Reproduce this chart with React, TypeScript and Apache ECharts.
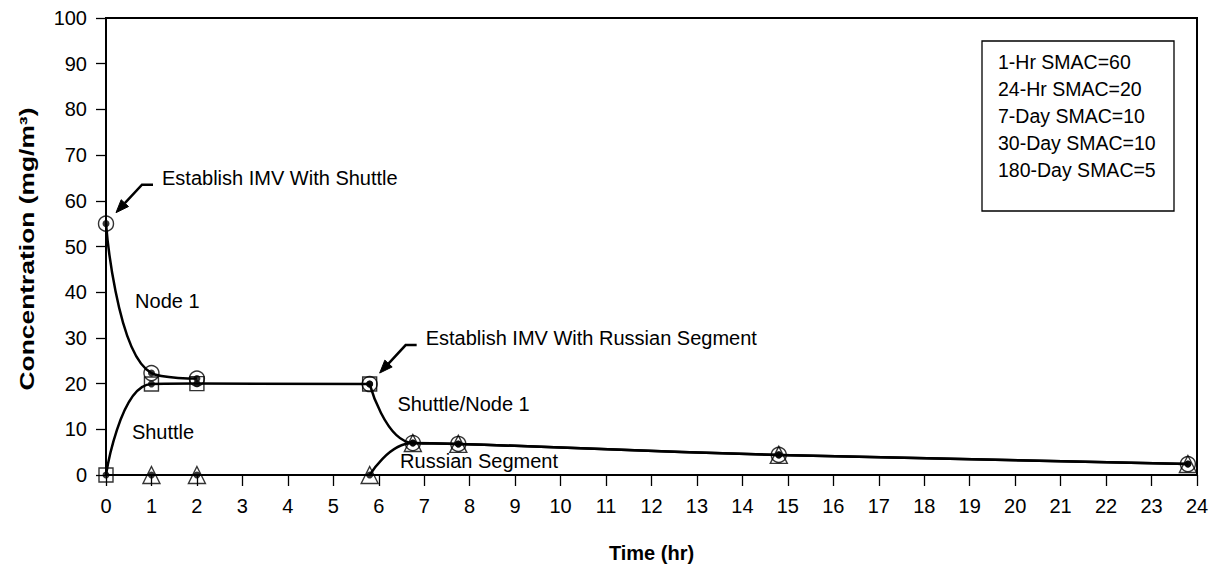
import React, { useEffect, useRef } from "react";
import * as echarts from "echarts";

const FONT = "'Liberation Sans', Arial, Helvetica, sans-serif";

// Node 1 samples (hr, mg/m³); from 5.8 hr on it is the joined Shuttle/Node 1 atmosphere
const node1Hours = [0, 1, 2, 5.8, 6.75, 7.75, 14.8, 23.8];
const node1Conc = [55, 22.3, 21.1, 19.9, 7.0, 6.8, 4.4, 2.4];
// Node 1 curve runs into the Shuttle curve after this sample ...
const node1MergeSample = 2;
// ... and the joined curve starts at the Russian hatch-opening sample
const node1JoinSample = 3;

// Shuttle samples
const shuttleHours = [0, 1, 2, 5.8];
const shuttleConc = [0, 19.9, 20.0, 19.9];

// Russian Segment samples
const russianHours = [1, 2, 5.8, 6.75, 7.75, 14.8, 23.8];
const russianConc = [0, 0, 0, 7.0, 6.8, 4.4, 2.4];
// the Russian curve is drawn from the hatch-opening sample onwards
const russianCurveStart = 2;

const hourTicks = { min: 0, max: 24, step: 1 };
const concTicks = { min: 0, max: 100, step: 10 };

const smacLimits = [
  "1-Hr SMAC=60",
  "24-Hr SMAC=20",
  "7-Day SMAC=10",
  "30-Day SMAC=10",
  "180-Day SMAC=5",
];

// curve names, placed in data units (left edge, vertical centre)
const curveLabels = [
  { text: "Node 1", hr: 0.64, conc: 38.1 },
  { text: "Shuttle", hr: 0.57, conc: 9.4 },
  { text: "Shuttle/Node 1", hr: 6.41, conc: 15.5 },
  { text: "Russian Segment", hr: 6.47, conc: 3.1 },
];

// events, pointing at Node 1 samples
const events = [
  { text: "Establish IMV With Shuttle", sample: 0 },
  { text: "Establish IMV With Russian Segment", sample: 3 },
];

const zip = (xs: number[], ys: number[]) => xs.map((x, i) => [x, ys[i]]);

export default function App() {
  const ref = useRef<HTMLDivElement | null>(null);

  useEffect(() => {
    if (!ref.current) return;
    const chart = echarts.init(ref.current, null, { renderer: "svg" });

    const node1 = zip(node1Hours, node1Conc);
    const shuttle = zip(shuttleHours, shuttleConc);
    const russian = zip(russianHours, russianConc);

    const curve = (data: number[][]) => ({
      type: "line",
      data,
      smooth: true,
      showSymbol: false,
      silent: true,
      lineStyle: { color: "#000", width: 2.5 },
    });
    const hollow = {
      color: "rgba(0,0,0,0)",
      borderColor: "#000",
      borderWidth: 1.4,
    };

    chart.setOption({
      animation: false,
      backgroundColor: "#fff",
      grid: {
        left: 106,
        right: 28,
        top: 18,
        bottom: 96,
        show: true,
        borderColor: "#000",
        borderWidth: 2,
      },
      xAxis: {
        type: "value",
        min: hourTicks.min,
        max: hourTicks.max,
        interval: hourTicks.step,
        name: "Time (hr)",
        nameLocation: "middle",
        nameGap: 68,
        nameTextStyle: {
          fontFamily: FONT,
          fontWeight: "bold",
          fontSize: 20,
          color: "#000",
        },
        axisLine: { onZero: false, lineStyle: { color: "#000", width: 2 } },
        axisTick: { length: 11, lineStyle: { color: "#000", width: 1.3 } },
        axisLabel: { margin: 21, fontSize: 20, color: "#000", fontFamily: FONT },
        splitLine: { show: false },
      },
      yAxis: {
        type: "value",
        min: concTicks.min,
        max: concTicks.max,
        interval: concTicks.step,
        axisLine: { onZero: false, lineStyle: { color: "#000", width: 2 } },
        axisTick: { length: 10, lineStyle: { color: "#000", width: 1.3 } },
        axisLabel: { margin: 19, fontSize: 20, color: "#000", fontFamily: FONT },
        splitLine: { show: false },
      },
      series: [
        curve(node1.slice(0, node1MergeSample + 1)),
        curve(node1.slice(node1JoinSample)),
        curve(shuttle),
        curve(russian.slice(russianCurveStart)),
        {
          type: "scatter",
          data: russian,
          symbol: "triangle",
          symbolSize: 17,
          silent: true,
          itemStyle: hollow,
          z: 3,
        },
        {
          type: "scatter",
          data: shuttle,
          symbol: "rect",
          symbolSize: 14,
          silent: true,
          itemStyle: hollow,
          z: 3,
        },
        {
          type: "scatter",
          data: node1,
          symbol: "circle",
          symbolSize: 15,
          silent: true,
          itemStyle: hollow,
          z: 3,
        },
        {
          type: "scatter",
          data: [...node1, ...shuttle, ...russian],
          symbol: "circle",
          symbolSize: 7,
          silent: true,
          itemStyle: { color: "#000" },
          z: 4,
        },
      ],
    });

    const toPx = (hr: number, conc: number) =>
      chart.convertToPixel({ gridIndex: 0 }, [hr, conc]) as number[];

    const graphics: any[] = [];

    // vertical axis title
    graphics.push({
      type: "text",
      x: 27,
      y: 249,
      rotation: Math.PI / 2,
      scaleX: 1.32,
      silent: true,
      style: {
        text: "Concentration (mg/m³)",
        font: `bold 20px ${FONT}`,
        fill: "#000",
        align: "center",
        verticalAlign: "middle",
      },
    });

    // SMAC box
    graphics.push({
      type: "rect",
      shape: { x: 982, y: 41, width: 192, height: 170 },
      silent: true,
      style: { fill: "#fff", stroke: "#000", lineWidth: 1.3 },
      z: 10,
    });
    smacLimits.forEach((line, i) => {
      graphics.push({
        type: "text",
        x: 998,
        y: 62 + i * 27,
        silent: true,
        z: 11,
        style: {
          text: line,
          font: `19.5px ${FONT}`,
          fill: "#000",
          align: "left",
          verticalAlign: "middle",
        },
      });
    });

    // curve names
    curveLabels.forEach((l) => {
      const [px, py] = toPx(l.hr, l.conc);
      graphics.push({
        type: "text",
        x: px,
        y: py,
        silent: true,
        z: 10,
        style: {
          text: l.text,
          font: `20px ${FONT}`,
          fill: "#000",
          align: "left",
          verticalAlign: "middle",
        },
      });
    });

    // event call-outs with arrows
    events.forEach((e) => {
      const [px, py] = toPx(node1Hours[e.sample], node1Conc[e.sample]);
      const tip = [px + 10, py - 11];
      const elbow = [px + 36, py - 39];
      const end = [px + 47, py - 39];
      const dx = tip[0] - elbow[0];
      const dy = tip[1] - elbow[1];
      const len = Math.hypot(dx, dy);
      const ux = dx / len;
      const uy = dy / len;
      const headLen = 13;
      const headHalf = 5;
      const base = [tip[0] - ux * headLen, tip[1] - uy * headLen];
      graphics.push({
        type: "polyline",
        silent: true,
        z: 10,
        shape: { points: [end, elbow, base] },
        style: { stroke: "#000", lineWidth: 2.5, fill: "none" },
      });
      graphics.push({
        type: "polygon",
        silent: true,
        z: 10,
        shape: {
          points: [
            tip,
            [base[0] - uy * headHalf, base[1] + ux * headHalf],
            [base[0] + uy * headHalf, base[1] - ux * headHalf],
          ],
        },
        style: { fill: "#000", stroke: "#000", lineWidth: 1 },
      });
      graphics.push({
        type: "text",
        x: px + 56,
        y: py - 46,
        silent: true,
        z: 10,
        style: {
          text: e.text,
          font: `20px ${FONT}`,
          fill: "#000",
          align: "left",
          verticalAlign: "middle",
        },
      });
    });

    chart.setOption({ graphic: graphics });

    return () => chart.dispose();
  }, []);

  return (
    <div
      ref={ref}
      style={{ position: "fixed", left: 0, top: 0, width: 1225, height: 571 }}
    />
  );
}
